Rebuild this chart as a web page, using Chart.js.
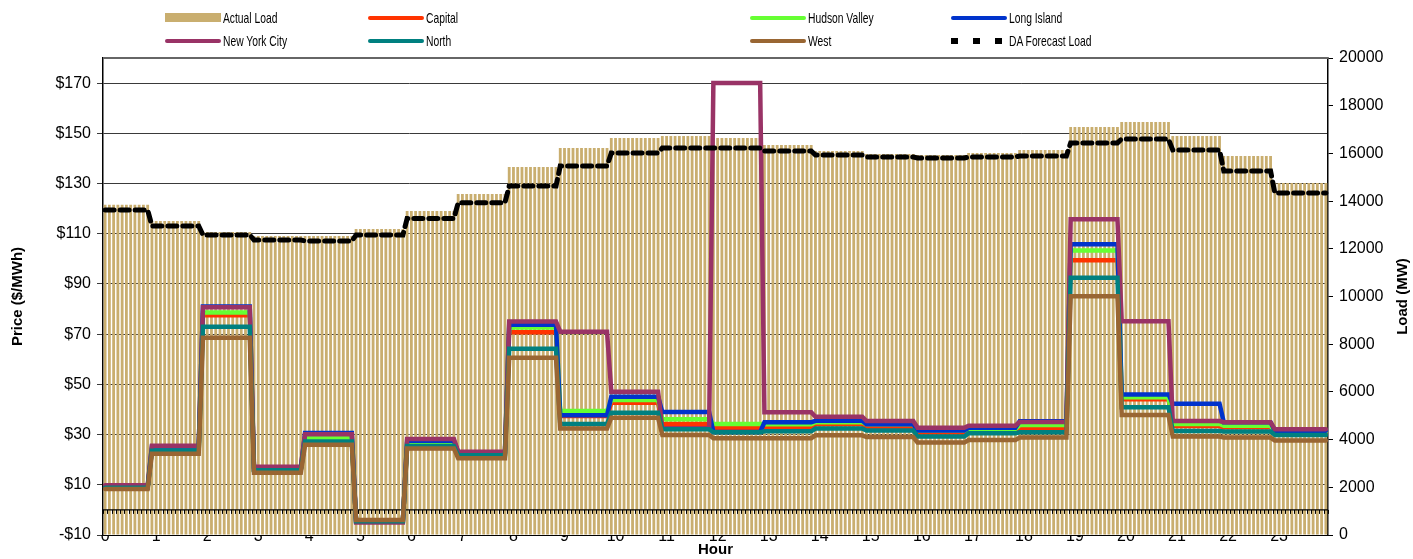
<!DOCTYPE html>
<html>
<head>
<meta charset="UTF-8">
<title>Zonal prices and load</title>
<script src="https://cdn.jsdelivr.net/npm/chart.js@4.4.1/dist/chart.umd.min.js"></script>
<style>
  body { margin: 0; background: #fff; }
  #wrap { position: relative; width: 1413px; height: 559px; }
  #legend {
    position: absolute; left: 165px; top: 6px;
    display: grid; grid-template-columns: 203px 382px 201px 260px; grid-auto-rows: 23px;
    font: 14.5px "Liberation Sans", Arial, sans-serif;
    color: #000;
  }
  .item { display: flex; align-items: center; white-space: nowrap; }
  .sw { width: 56px; margin-right: 2px; flex: none; }
  .item span { display: inline-block; transform: scaleX(0.71); transform-origin: left center; }
</style>
</head>
<body>
<div id="wrap">
  <canvas id="priceChart" width="1413" height="559"></canvas>
  <div id="legend"></div>
</div>
<script>
// hourly values
const hourLabels = ['0','1','2','3','4','5','6','7','8','9','10','11','12','13','14','15','16','17','18','19','20','21','22','23'];
const priceTicks = [-10, 10, 30, 50, 70, 90, 110, 130, 150, 170];

const actualLoad = [13850, 13170, 12700, 12540, 12540, 12830, 13590, 14300, 15430, 16230, 16650, 16730,
                    16650, 16350, 16100, 15980, 15930, 16020, 16140, 17110, 17320, 16730, 15890, 14760];
const daForecast = [13630, 12960, 12580, 12370, 12330, 12580, 13270, 13930, 14630, 15470, 16020, 16230,
                    16230, 16100, 15930, 15850, 15810, 15850, 15890, 16440, 16600, 16140, 15260, 14340];

const capital    = [9, 24, 77.5, 16, 28, -4.5, 26.4, 22.5, 70.8, 37.4, 42.7, 34.2,
                    32.6, 33.1, 34.1, 33.1, 30.8, 31.7, 32.6, 99.4, 44.1, 33.4, 32.9, 30.9];
const hudson     = [9, 24.2, 78.6, 16, 28.5, -4.5, 27, 22.3, 72.7, 39.4, 43.8, 36.1,
                    34.2, 34.1, 34.9, 34.1, 31.6, 32.2, 33.8, 103.3, 44.9, 34.2, 33.5, 31.2];
const longIsland = [9.2, 25.3, 81, 16.2, 30.6, -4.6, 27.5, 23, 73.7, 37.7, 45.1, 39,
                    31, 34.9, 35.5, 34.1, 31.6, 32.7, 35.3, 105.8, 46, 42.3, 34.9, 31.5];
const nyc        = [9.8, 25.6, 80.7, 17.2, 30.1, -5, 28.2, 23.2, 75, 71, 47.1, 32.5,
                    170, 38.9, 37.1, 35.4, 32.7, 33.5, 35, 115.8, 75.1, 35.4, 34.9, 32.1];
const north      = [8.8, 23.6, 73, 15.8, 27.2, -4.5, 25.5, 21.8, 64.2, 34.2, 38.7, 32.1,
                    30.9, 31.3, 32.4, 31.6, 29.2, 30.5, 30.9, 92.5, 40.9, 31.4, 31.2, 29.8];
const west       = [8.3, 22.4, 68.6, 14.8, 25.9, -4, 24.5, 20.6, 60.6, 32.4, 36.7, 29.8,
                    28.5, 28.5, 29.7, 29, 26.8, 27.8, 28.8, 85.1, 37.8, 29.2, 28.8, 27.6];

// the chart is plotted on 5-minute intervals, each showing its hour's value
const perHour = 12;
const slots = [];
const intervalLabels = [];
for (let i = 0; i < hourLabels.length * perHour; i++) {
  slots.push(Math.min(hourLabels.length - 1, Math.floor((i + 1) / perHour)));
  intervalLabels.push(i % perHour === 0 ? hourLabels[i / perHour] : '');
}
const spread = arr => slots.map(h => arr[h]);

Chart.defaults.font.family = '"Liberation Sans", Arial, sans-serif';
Chart.defaults.color = '#000';

const priceLine = (label, values, color, order) => ({
  type: 'line', label, data: spread(values), yAxisID: 'yPrice',
  borderColor: color, backgroundColor: color, order
});

const datasets = [
  { type: 'bar', label: 'Actual Load', data: spread(actualLoad), yAxisID: 'yLoad',
    backgroundColor: '#C9AE6F', barPercentage: 0.66, categoryPercentage: 1, order: 20 },
  priceLine('Capital', capital, '#FF3300', 8),
  priceLine('Hudson Valley', hudson, '#66FF33', 7),
  priceLine('Long Island', longIsland, '#0033CC', 6),
  priceLine('New York City', nyc, '#993366', 5),
  priceLine('North', north, '#008080', 4),
  priceLine('West', west, '#996633', 3),
  { type: 'line', label: 'DA Forecast Load', data: spread(daForecast), yAxisID: 'yLoad',
    borderColor: '#000', backgroundColor: '#000', borderDash: [9, 6], borderWidth: 5, order: 1 }
];

const extras = {
  id: 'extras',
  afterDatasetDraw(chart, args) {
    if (args.index !== 0) return;
    const { ctx, chartArea } = chart;
    const x = chart.scales.x;
    const y0 = chart.scales.yPrice.getPixelForValue(0);
    const step = x.getPixelForValue(1) - x.getPixelForValue(0);
    ctx.save();
    ctx.strokeStyle = '#000';
    ctx.lineWidth = 1.2;
    ctx.beginPath();
    ctx.moveTo(chartArea.left, y0);
    ctx.lineTo(chartArea.right, y0);
    ctx.stroke();
    ctx.lineWidth = 1;
    ctx.beginPath();
    for (let i = 0; i <= intervalLabels.length; i++) {
      const px = Math.round(x.getPixelForValue(i) - step / 2) + 0.5;
      ctx.moveTo(px, y0);
      ctx.lineTo(px, y0 + 4);
    }
    ctx.stroke();
    ctx.restore();
  },
  afterDraw(chart) {
    const { ctx, chartArea } = chart;
    ctx.save();
    ctx.strokeStyle = '#666';
    ctx.lineWidth = 2;
    ctx.beginPath();
    ctx.moveTo(chartArea.left, chartArea.top);
    ctx.lineTo(chartArea.right, chartArea.top);
    ctx.stroke();
    // right axis title reads bottom-to-top like the left one
    const r = chart.scales.yLoad;
    ctx.translate(r.right - 10, (chartArea.top + chartArea.bottom) / 2);
    ctx.rotate(-Math.PI / 2);
    ctx.font = 'bold 15px "Liberation Sans", Arial, sans-serif';
    ctx.fillStyle = '#000';
    ctx.textAlign = 'center';
    ctx.textBaseline = 'middle';
    ctx.fillText('Load (MW)', 0, 0);
    ctx.restore();
  }
};

const chart = new Chart(document.getElementById('priceChart'), {
  data: { labels: intervalLabels, datasets },
  plugins: [extras],
  options: {
    responsive: false,
    animation: false,
    layout: { padding: { top: 58, left: 0, right: 0, bottom: 0 } },
    elements: {
      line: { borderWidth: 4.5, tension: 0, fill: false, borderCapStyle: 'round' },
      point: { radius: 0, hoverRadius: 0 }
    },
    plugins: { legend: { display: false }, tooltip: { enabled: false } },
    scales: {
      x: {
        type: 'category',
        offset: true,
        grid: { display: false, drawTicks: false },
        border: { display: true, color: '#000', width: 1 },
        ticks: { autoSkip: false, maxRotation: 0, padding: -8, font: { size: 16 },
                 callback: (v, i) => intervalLabels[i] },
        title: { display: true, text: 'Hour', font: { size: 15, weight: 'bold' }, padding: { top: 0, bottom: 0 } },
        afterFit: s => { s.height = 24; }
      },
      yPrice: {
        position: 'left',
        min: -10, max: 180,
        afterBuildTicks: s => { s.ticks = priceTicks.map(v => ({ value: v })); },
        ticks: { font: { size: 16 }, padding: 6,
                 callback: v => (v < 0 ? '-$' : '$') + Math.abs(v) },
        grid: { color: '#3a3a3a', lineWidth: 1, tickLength: 6 },
        border: { color: '#000', width: 1.5 },
        title: { display: true, text: 'Price ($/MWh)', font: { size: 15, weight: 'bold' }, padding: { top: 9, bottom: 0 } },
        afterFit: s => { s.width = 103; }
      },
      yLoad: {
        position: 'right',
        min: 0, max: 20000,
        ticks: { stepSize: 2000, font: { size: 16 }, padding: 6, callback: v => String(v) },
        grid: { drawOnChartArea: false, tickLength: 5, color: '#000' },
        border: { color: '#000', width: 1.5 },
        afterFit: s => { s.width = 85; }
      }
    }
  }
});

// legend in two rows of four, as in the original
const legend = document.getElementById('legend');
chart.data.datasets.forEach(ds => {
  const item = document.createElement('div');
  item.className = 'item';
  const sw = document.createElement('div');
  sw.className = 'sw';
  if (ds.type === 'bar') {
    sw.style.height = '9px';
    sw.style.background = ds.backgroundColor;
  } else if (ds.borderDash) {
    sw.style.height = '6px';
    sw.style.background = 'repeating-linear-gradient(90deg, #000 0 7px, transparent 7px 22px)';
  } else {
    sw.style.height = '4px';
    sw.style.borderRadius = '2px';
    sw.style.background = ds.borderColor;
  }
  const txt = document.createElement('span');
  txt.textContent = ds.label;
  item.appendChild(sw);
  item.appendChild(txt);
  legend.appendChild(item);
});
</script>
</body>
</html>
